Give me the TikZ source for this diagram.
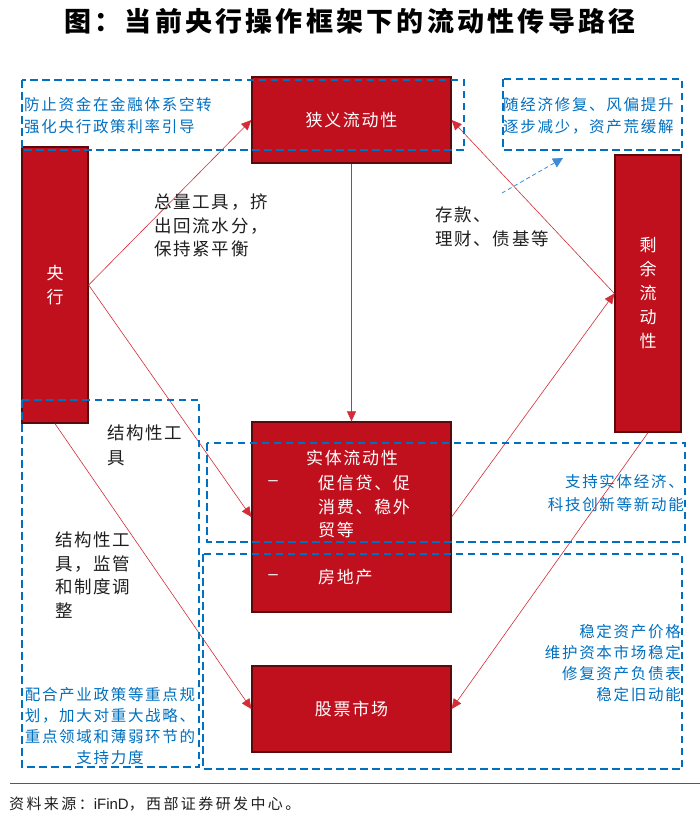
\documentclass[tikz,border=0pt]{standalone}
\usepackage{fontspec}
\setmainfont{Noto Sans CJK SC}
\newfontfamily\cjk[LetterSpace=10]{Noto Sans CJK SC}
\newfontfamily\cjkb[LetterSpace=11]{Noto Sans CJK SC}
\newfontfamily\cjkt[LetterSpace=12]{Noto Sans CJK SC}
\newfontfamily\cjks[LetterSpace=16]{Noto Sans CJK SC}
\newfontfamily\lat{Liberation Sans}
\usetikzlibrary{arrows.meta}
\definecolor{boxred}{RGB}{192,16,30}
\definecolor{boxedge}{RGB}{90,10,12}
\definecolor{dblue}{RGB}{0,112,192}
\definecolor{lred}{RGB}{212,45,55}
\definecolor{lblue}{RGB}{60,140,215}
\begin{document}
\begin{tikzpicture}[x=1pt,y=-1pt,
 redbox/.style={draw=boxedge, line width=1.3pt, fill=boxred, inner sep=0pt, text=white, font={\cjk\fontsize{17pt}{24pt}\selectfont}, align=center},
 frame/.style={draw=dblue, line width=1.8pt, dash pattern=on 7.5pt off 4.5pt},
 flow/.style={draw=lred, line width=0.6pt, -{Triangle[length=10pt,width=9pt]}},
 blk/.style={text=black!88, inner sep=0pt, align=left, font={\cjk\fontsize{17.5pt}{23.5pt}\selectfont}},
 blu/.style={text=dblue, inner sep=0pt, font={\cjkb\fontsize{15.5pt}{22pt}\selectfont}},
 wht/.style={text=white, inner sep=0pt, align=left, font={\cjk\fontsize{17pt}{23.5pt}\selectfont}},
]
\fill[white] (0,0) rectangle (700,823);
\useasboundingbox (0,0) rectangle (700,823);

% title
\node[anchor=base, inner sep=0pt, font={\cjkt\bfseries\fontsize{27pt}{30pt}\selectfont}] (title) at (350,31.7) {图：当前央行操作框架下的流动性传导路径};

% red boxes
\node[redbox, minimum width=66pt, minimum height=276pt] (cb) at (55,285) {央\\行};
\node[redbox, minimum width=199pt, minimum height=86pt] (narrow) at (351.5,120) {狭义流动性};
\node[redbox, minimum width=66pt, minimum height=277pt] (surplus) at (648,293.5) {剩\\余\\流\\动\\性};
\node[redbox, minimum width=199pt, minimum height=190pt] (real) at (351.5,517) {};
\node[redbox, minimum width=199pt, minimum height=86pt] (stock) at (351.5,709) {股票市场};

% text inside real-economy box
\node[wht, anchor=center] (realtitle) at (352,458) {实体流动性};
\node[wht, anchor=center, font={\lat\fontsize{17pt}{20pt}\selectfont}] (dash1) at (273,483) {–};
\node[wht, anchor=base west] (credit) at (318,536.5) {促信贷、促\\消费、稳外\\贸等};
\node[wht, anchor=center, font={\lat\fontsize{17pt}{20pt}\selectfont}] (dash2) at (273,577) {–};
\node[wht, anchor=base west] (estate) at (318,583.5) {房地产};

% connectors
\draw[flow] (cb.east) -- (narrow.west);
\draw[flow] (cb.east) -- (real.west);
\draw[flow] (cb.south) -- (stock.west);
\draw[flow] (narrow.south) -- (real.north);
\draw[flow] (surplus.west) -- (narrow.east);
\draw[flow] (real.east) -- (surplus.west);
\draw[flow] (surplus.south) -- (stock.east);

\coordinate (dA) at (502,193);
\coordinate (dB) at (563,158);
\draw[lblue, line width=0.8pt, dash pattern=on 4pt off 3pt, -{Triangle[length=10pt,width=10pt]}] (dA) -- (dB);

% black labels (anchored at the baseline of the last line)
\node[blk, anchor=base west] (lab1) at (154,255.7) {总量工具，挤\\出回流水分，\\保持紧平衡};
\node[blk, anchor=base west] (lab2) at (435,245.2) {存款、\\理财、债基等};
\node[blk, anchor=base west, font={\cjk\fontsize{17.5pt}{25pt}\selectfont}] (lab3) at (107,464.7) {结构性工\\具};
\node[blk, anchor=base west] (lab4) at (55,617.2) {结构性工\\具，监管\\和制度调\\整};

% dashed frames
\draw[frame] (22,80) rectangle (464,150);
\draw[frame] (503,79) rectangle (682,150);
\draw[frame] (22,400) rectangle (199,767);
\draw[frame] (207,443) rectangle (685,542);
\draw[frame] (203,554) rectangle (682,769);

% blue notes
\node[blu, anchor=base west, align=left] (note1) at (24,132.9) {防止资金在金融体系空转\\强化央行政策利率引导};
\node[blu, anchor=base west, align=left] (note2) at (503,132.9) {随经济修复、风偏提升\\逐步减少，资产荒缓解};
\node[blu, anchor=base east, align=right, font={\cjkb\fontsize{15.5pt}{23pt}\selectfont}] (note3) at (684,510.9) {支持实体经济、\\科技创新等新动能};
\node[blu, anchor=base east, align=right, font={\cjkb\fontsize{15.5pt}{21pt}\selectfont}] (note4) at (681,700.9) {稳定资产价格\\维护资本市场稳定\\修复资产负债表\\稳定旧动能};
\node[blu, anchor=base, align=center, font={\cjkb\fontsize{15.5pt}{21pt}\selectfont}] (note5) at (110,763.9) {配合产业政策等重点规\\划，加大对重大战略、\\重点领域和薄弱环节的\\支持力度};

% source
\draw[black!65, line width=1pt] (10,783) -- (700,783);
\node[anchor=base west, inner sep=0pt, text=black!88, font={\cjks\fontsize{15pt}{17pt}\selectfont}] (src) at (9,809) {资料来源：{\lat iFinD}，西部证券研发中心。};
\end{tikzpicture}
\end{document}
